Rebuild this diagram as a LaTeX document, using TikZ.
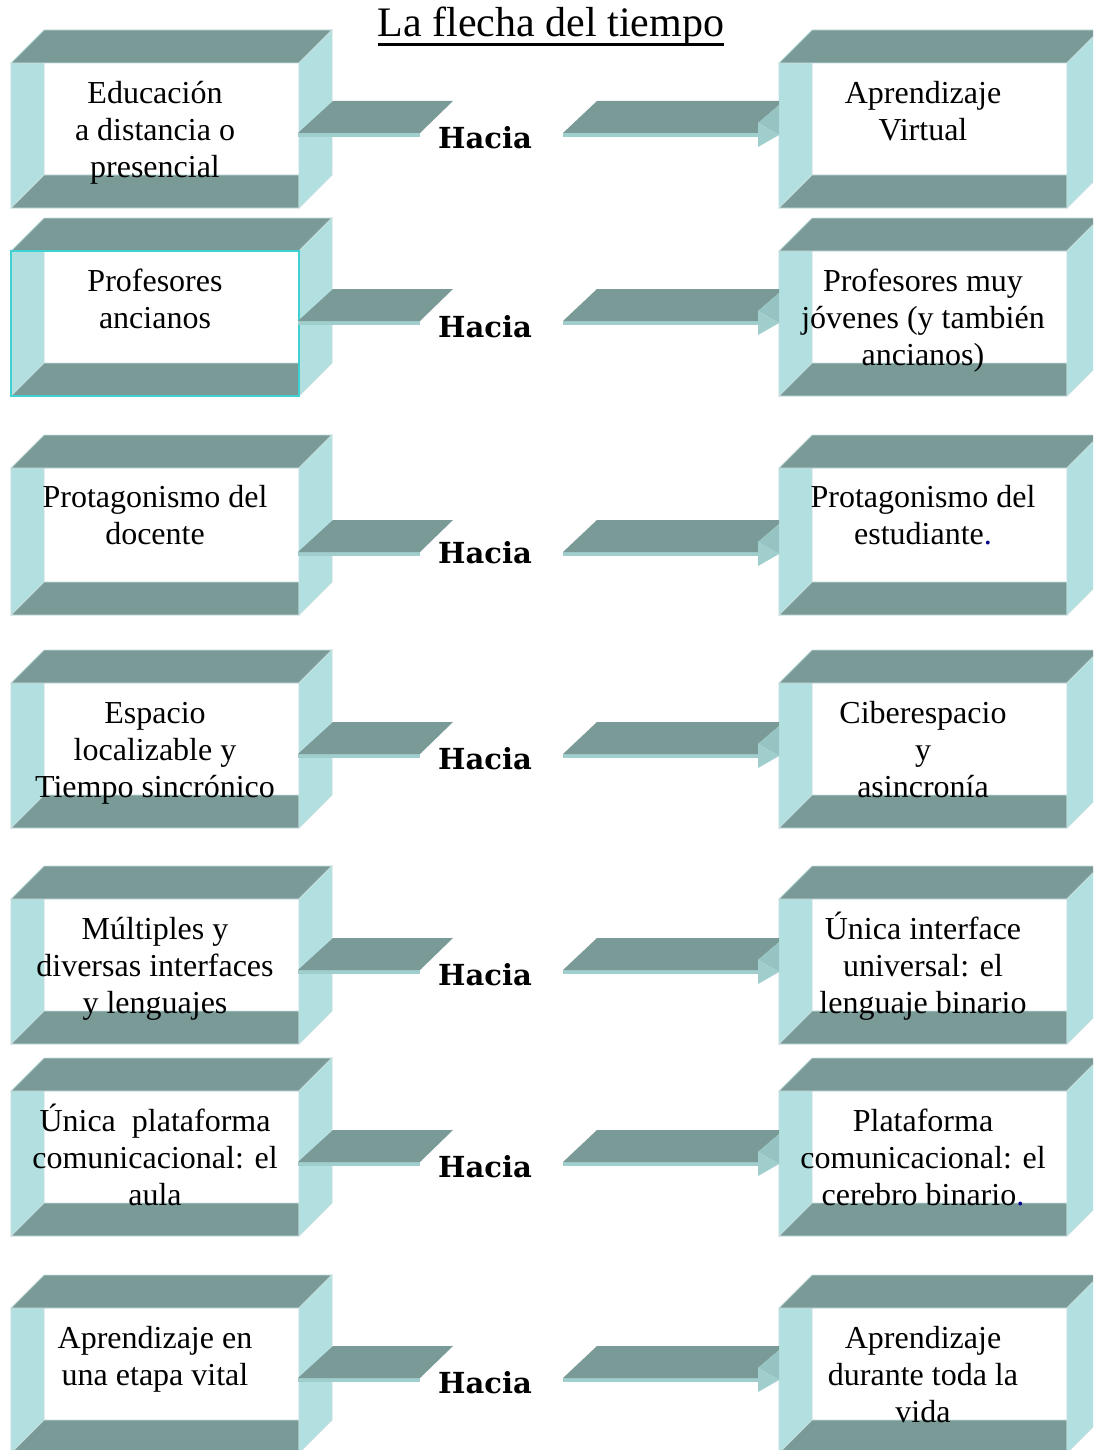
\documentclass[tikz,border=0pt]{standalone}
\usepackage{fontspec}
\setmainfont{Liberation Serif}
\newfontfamily\haciafont{DejaVu Serif}
\definecolor{tdark}{RGB}{122,154,151}
\definecolor{tlight}{RGB}{178,224,224}
\definecolor{tedge}{RGB}{196,222,222}
\definecolor{tmid}{RGB}{150,196,194}
\definecolor{tstripe}{RGB}{160,206,205}
\definecolor{tsel}{RGB}{64,208,208}
\definecolor{dotblue}{RGB}{0,0,140}
\tikzset{
  boxtext/.style={anchor=north,inner sep=0pt,align=center,font=\fontsize{32}{37}\selectfont},
  hacia/.style={anchor=base,inner sep=0pt,font=\haciafont\bfseries\fontsize{29}{32}\selectfont},
  darkface/.style={fill=tdark,draw=tedge,line width=0.8pt},
  lightface/.style={fill=tlight,draw=tedge,line width=0.8pt},
}
% #1 x0, #2 front top, #3 front bottom
\newcommand\mybox[3]{%
  \filldraw[lightface] (#1,#2) -- (#1+33,#2) -- (#1+33,#3-33) -- (#1,#3) -- cycle;
  \filldraw[darkface] (#1,#3) -- (#1+33,#3-33) -- (#1+288,#3-33) -- (#1+288,#3) -- cycle;
  \filldraw[darkface] (#1,#2) -- (#1+33,#2-33) -- (#1+321,#2-33) -- (#1+288,#2) -- cycle;
  \filldraw[lightface] (#1+288,#2) -- (#1+321,#2-33) -- (#1+321,#3-33) -- (#1+288,#3) -- cycle;
}
% #1 arrow top y
\newcommand\myarrows[1]{%
  \fill[tstripe] (298,#1+32) rectangle (420,#1+36);
  \filldraw[darkface,draw=none] (298,#1+32) -- (333,#1) -- (453,#1) -- (420,#1+32) -- cycle;
  \fill[tstripe] (563,#1+32) rectangle (758,#1+36);
  \fill[tdark] (563,#1+32) -- (597,#1) -- (779,#1) -- (779,#1+4) -- (758,#1+22) -- (758,#1+32) -- cycle;
  \fill[tmid] (758,#1+22) -- (779,#1+4) -- (779,#1+34) -- cycle;
  \fill[tstripe] (758,#1+22) -- (779,#1+34) -- (758,#1+46) -- cycle;
}
\begin{document}
\begin{tikzpicture}[x=1pt,y=-1pt]
\useasboundingbox (0,0) rectangle (1093,1450);
\clip (0,0) rectangle (1093,1450);
\fill[white] (0,0) rectangle (1093,1450);

% title
\node[anchor=base,inner sep=0pt,font=\fontsize{42}{46}\selectfont] (title) at (551,37) {La flecha del tiempo};
\draw[line width=2.5pt] ([yshift=-7.5pt]title.base west) -- ([yshift=-7.5pt]title.base east);

% rows: front tops and bottoms
\mybox{11}{63}{208}   \mybox{779}{63}{208}
\mybox{11}{251}{396}  \mybox{779}{251}{396}
\mybox{11}{468}{615}  \mybox{779}{468}{615}
\mybox{11}{683}{828}  \mybox{779}{683}{828}
\mybox{11}{899}{1044} \mybox{779}{899}{1044}
\mybox{11}{1091}{1236} \mybox{779}{1091}{1236}
\mybox{11}{1308}{1453} \mybox{779}{1308}{1453}

\draw[tsel,line width=1.5pt] (11,251) rectangle (299,396);

\myarrows{101}
\myarrows{289}
\myarrows{520}
\myarrows{722}
\myarrows{938}
\myarrows{1130}
\myarrows{1346}

% Hacia labels
\node[hacia] (h1) at (485,149) {Hacia};
\node[hacia] (h2) at (485,337) {Hacia};
\node[hacia] (h3) at (485,563) {Hacia};
\node[hacia] (h4) at (485,769) {Hacia};
\node[hacia] (h5) at (485,985) {Hacia};
\node[hacia] (h6) at (485,1177) {Hacia};
\node[hacia] (h7) at (485,1393) {Hacia};

% left texts
\node[boxtext] (l1) at (155,71) {\rule{0pt}{32pt}Educación\\a distancia o\\presencial};
\node[boxtext] (l2) at (155,259) {\rule{0pt}{32pt}Profesores\\ancianos};
\node[boxtext] (l3) at (155,475) {\rule{0pt}{32pt}Protagonismo del\\docente};
\node[boxtext] (l4) at (155,691) {\rule{0pt}{32pt}Espacio\\localizable y\\Tiempo sincrónico};
\node[boxtext] (l5) at (155,907) {\rule{0pt}{32pt}Múltiples y\\diversas interfaces\\y lenguajes};
\node[boxtext] (l6) at (155,1099) {\rule{0pt}{32pt}Única\ \ plataforma\\comunicacional: el\\aula};
\node[boxtext] (l7) at (155,1316) {\rule{0pt}{32pt}Aprendizaje en\\una etapa vital};

% right texts
\node[boxtext] (r1) at (923,71) {\rule{0pt}{32pt}Aprendizaje\\Virtual};
\node[boxtext] (r2) at (923,259) {\rule{0pt}{32pt}Profesores muy\\jóvenes (y también\\ancianos)};
\node[boxtext] (r3) at (923,475) {\rule{0pt}{32pt}Protagonismo del\\estudiante{\color{dotblue}.}};
\node[boxtext] (r4) at (923,691) {\rule{0pt}{32pt}Ciberespacio\\y\\asincronía};
\node[boxtext] (r5) at (923,907) {\rule{0pt}{32pt}Única interface\\universal: el\\lenguaje binario};
\node[boxtext] (r6) at (923,1099) {\rule{0pt}{32pt}Plataforma\\comunicacional: el\\cerebro binario{\color{dotblue}.}};
\node[boxtext] (r7) at (923,1316) {\rule{0pt}{32pt}Aprendizaje\\durante toda la\\vida};
\end{tikzpicture}
\end{document}
